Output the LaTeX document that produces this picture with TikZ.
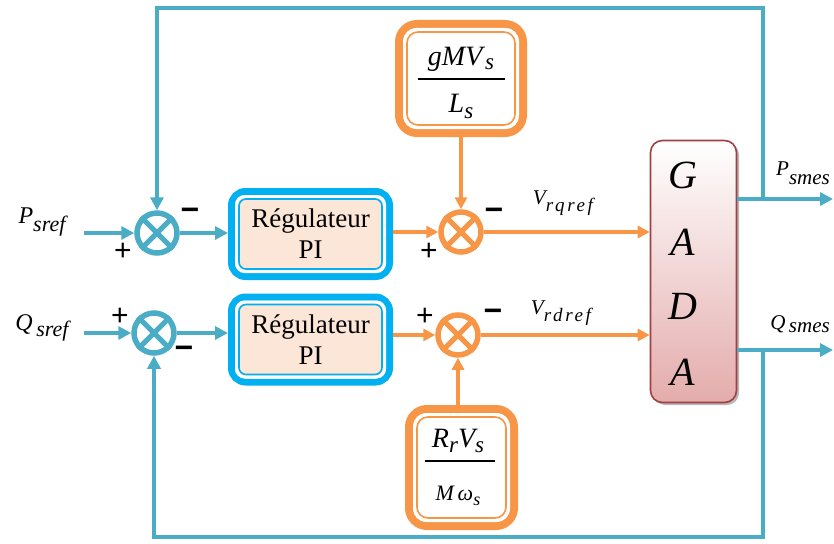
\documentclass[tikz,border=0pt]{standalone}
\usepackage{fontspec}
\setmainfont{Liberation Serif}
\newfontfamily\signfont{Liberation Sans}
\usepackage{amsmath}
\usetikzlibrary{arrows.meta,shadows,calc}
\definecolor{lineblue}{RGB}{75,172,198}
\definecolor{piblue}{RGB}{0,176,240}
\definecolor{orng}{RGB}{247,150,70}
\definecolor{peach}{RGB}{252,230,216}
\definecolor{gadared}{RGB}{160,64,66}
\definecolor{gadapink}{RGB}{228,172,172}
% base, sub, base size, sub size, drop
\newcommand{\isub}[5]{{\fontsize{#3}{#3}\selectfont\itshape #1}\raisebox{-#5}{\fontsize{#4}{#4}\selectfont\itshape #2}}
\begin{document}
\begin{tikzpicture}[x=1pt,y=-1pt,
  bline/.style={draw=lineblue,line width=4.5pt},
  oline/.style={draw=orng,line width=4pt},
  barr/.style={bline,-{Triangle[length=13pt,width=13pt]}},
  oarr/.style={oline,-{Triangle[length=12pt,width=12pt]}},
  bsum/.style={circle,draw=lineblue,line width=5.5pt,minimum size=40pt,inner sep=0pt,fill=white},
  osum/.style={circle,draw=orng,line width=5.5pt,minimum size=40pt,inner sep=0pt,fill=white},
  pibox/.style={rectangle,rounded corners=14pt,draw=piblue,line width=7pt,fill=peach,
    minimum width=158pt,minimum height=85pt,align=center,font=\fontsize{27}{31}\selectfont},
  obox/.style={rectangle,rounded corners=18pt,draw=orng,line width=8pt,fill=white,inner sep=0pt,
    font=\fontsize{26}{28}\selectfont},
  sign/.style={font=\signfont\fontsize{30}{30}\selectfont,inner sep=0pt},
  minus/.style={font=\signfont\bfseries\fontsize{32}{32}\selectfont,inner sep=0pt},
  lbl/.style={inner sep=0pt},
  gl/.style={font=\fontsize{40}{40}\selectfont\itshape,inner sep=0pt},
  fbar/.style={draw=black,line width=1.5pt}
]
\useasboundingbox (0,0) rectangle (834,543);

% summers
\node[bsum] (sb1) at (157,233) {};
\node[bsum] (sb2) at (154,333) {};
\node[osum] (so1) at (461,232) {};
\node[osum] (so2) at (458,335) {};
\foreach \s/\c in {sb1/lineblue,sb2/lineblue,so1/orng,so2/orng}{
  \draw[\c,line width=5pt] (\s.45) -- (\s.225) (\s.135) -- (\s.315);
}

% PI boxes
\node[pibox] (pi1) at (310.5,234) {Régulateur\\PI};
\node[pibox] (pi2) at (310.5,339.5) {Régulateur\\PI};
\foreach \b in {pi1,pi2}{
  \draw[white,line width=3pt,rounded corners=8pt] ([shift={(8.5,8.5)}]\b.north west) rectangle ([shift={(-8.5,-8.5)}]\b.south east);
  \draw[piblue,line width=1.6pt,rounded corners=7pt] ([shift={(11,11)}]\b.north west) rectangle ([shift={(-11,-11)}]\b.south east);
}

% orange boxes
\node[obox,minimum width=124pt,minimum height=109pt] (ob1) at (461,78.5) {};
\node[obox,minimum width=105pt,minimum height=117pt] (ob2) at (461.5,467.5) {};
\foreach \b in {ob1,ob2}{
  \draw[white,line width=3pt,rounded corners=12pt] ([shift={(9.5,9.5)}]\b.north west) rectangle ([shift={(-9.5,-9.5)}]\b.south east);
  \draw[orng,line width=1.6pt,rounded corners=11pt] ([shift={(12,12)}]\b.north west) rectangle ([shift={(-12,-12)}]\b.south east);
}
% fractions
\node[lbl,anchor=base] (n1) at (461,65) {\fontsize{28}{28}\selectfont\textit{gMV}\raisebox{-5pt}{\fontsize{23}{23}\selectfont\textit{s}}};
\coordinate (f1a) at (418,79);
\coordinate (f1b) at (505,79);
\draw[fbar] (f1a) -- (f1b);
\node[lbl,anchor=base] (d1) at (461,112) {\isub{L}{s}{28}{23}{6pt}};
\node[lbl,anchor=base] (n2) at (458,447) {\isub{R}{r}{28}{23}{5pt}\isub{V}{s}{28}{23}{5pt}};
\coordinate (f2a) at (425,461);
\coordinate (f2b) at (495,461);
\draw[fbar] (f2a) -- (f2b);
\node[lbl,anchor=base] (d2) at (458,500) {\fontsize{22}{22}\selectfont\textit{M\,ω}\raisebox{-5pt}{\fontsize{18}{18}\selectfont\textit{s}}};

% GADA
\node[rectangle,rounded corners=12pt,draw=gadared,line width=1.6pt,top color=white,bottom color=gadapink,
  minimum width=86pt,minimum height=262pt,inner sep=0pt,
  drop shadow={shadow xshift=2.5pt,shadow yshift=-2.5pt,fill=gray!70,opacity=0.8}] (gada) at (693.5,271.5) {};
\node[gl] (g1) at (683,175) {G};
\node[gl] (g2) at (683,242) {A};
\node[gl] (g3) at (683,306) {D};
\node[gl] (g4) at (683,372) {A};

% coordinates
\coordinate (pin) at (84,233);
\coordinate (qin) at (84,333);
\coordinate (ptap) at (763,199);
\coordinate (qtap) at (763,350);
\coordinate (ptop) at (763,8);
\coordinate (qbot) at (763,537);
\coordinate (pout) at (833,199);
\coordinate (qout) at (833,350);

% blue connectors
\draw[barr] (pin) -- (sb1);
\draw[barr] (qin) -- (sb2);
\draw[barr] (sb1.east) -- (sb1.east -| pi1.west);
\draw[barr] (sb2.east) -- (sb2.east -| pi2.west);
\draw[barr] (gada.east |- pout) -- (pout);
\draw[barr] (gada.east |- qout) -- (qout);
\draw[barr] (ptap) -- (ptop) -| (sb1);
\draw[barr] (qtap) -- (qbot) -| (sb2);

% orange connectors
\draw[oarr] (pi1.east |- so1) -- (so1);
\draw[oarr] (pi2.east |- so2) -- (so2);
\draw[oarr] (ob1.south -| so1) -- (so1);
\draw[oarr] (ob2.north -| so2) -- (so2);
\draw[oarr] (so1) -- (so1 -| gada.west);
\draw[oarr] (so2) -- (so2 -| gada.west);

% labels
\node[lbl] (lp) at (42,222) {\isub{P}{sref}{24}{22}{8pt}};
\node[lbl] (lq) at (42,328) {\isub{Q}{\,sref}{24}{22}{6pt}};
\node[lbl] (lvq) at (563,203) {\isub{V}{\addfontfeature{LetterSpace=14}rqref}{21}{19}{7pt}};
\node[lbl] (lvd) at (561,313) {\isub{V}{\addfontfeature{LetterSpace=14}rdref}{21}{19}{7pt}};
\node[lbl] (lps) at (803,173) {\isub{P}{smes}{21}{21}{9pt}};
\node[lbl] (lqs) at (800,324) {\isub{Q}{\,smes}{21}{21}{3pt}};

% signs
\node[sign] (s1p) at (123,252) {+};
\node[minus] (s1m) at (190,214) {−};
\node[sign] (s2p) at (120,317) {+};
\node[minus] (s2m) at (184,352) {−};
\node[sign] (s3p) at (429,252) {+};
\node[minus] (s3m) at (494,214) {−};
\node[sign] (s4p) at (425,317) {+};
\node[minus] (s4m) at (493,315) {−};
\end{tikzpicture}
\end{document}
